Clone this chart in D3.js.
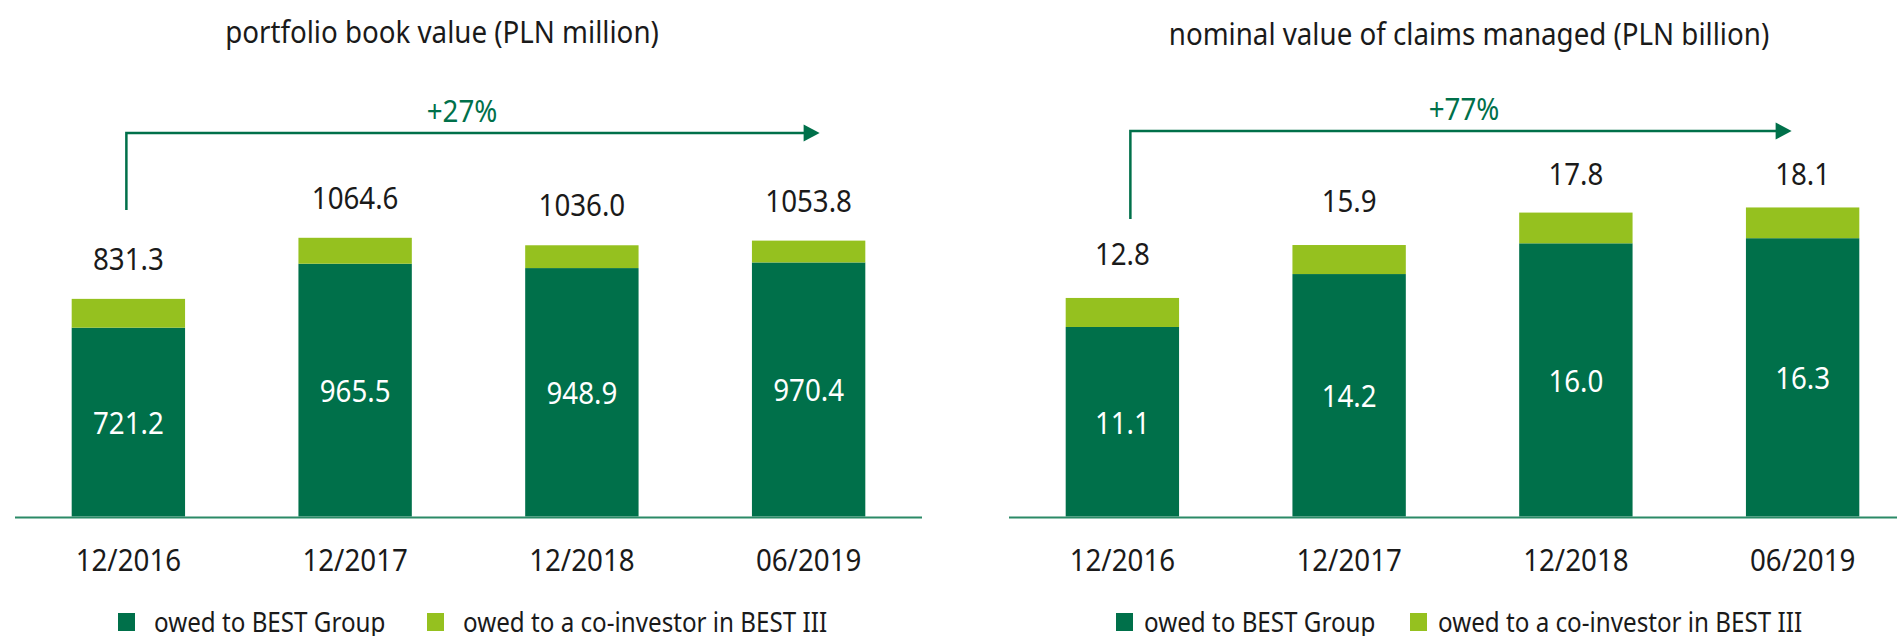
<!DOCTYPE html>
<html>
<head>
<meta charset="utf-8">
<script src="https://cdn.jsdelivr.net/npm/d3@7/dist/d3.min.js"></script>
<style>
    html, body {
        margin: 0;
        padding: 0;
        background: #ffffff;
    }
    svg {
        display: block;
        font-family: "Noto Sans", "Open Sans", "DejaVu Sans", sans-serif;
    }
</style>
</head>
<body>
<svg width="1897" height="636"></svg>
<script>
/*global d3 */

var categories = ["12/2016", "12/2017", "12/2018", "06/2019"];
var seriesNames = ["owed to BEST Group", "owed to a co-investor in BEST III"];

// portfolio book value (PLN million)
var bookGroup = [721.2, 965.5, 948.9, 970.4];
var bookCoInvestor = [110.1, 99.1, 87.1, 83.4];
var bookTotal = [831.3, 1064.6, 1036.0, 1053.8];

// nominal value of claims managed (PLN billion)
var claimsGroup = [11.1, 14.2, 16.0, 16.3];
var claimsCoInvestor = [1.7, 1.7, 1.8, 1.8];
var claimsTotal = [12.8, 15.9, 17.8, 18.1];

var growthLabels = ["+27%", "+77%"];

var colors = ["#00704a", "#95c11f"];
var axisColor = "#2b8a67";
var textColor = "#1a1a1a";

var svg = d3.select("svg");
var baseline = 516.5; // px
var plotTop = 123.8; // px
var squeeze = 0.88; // the original face is a condensed one
var labelSize = 31.5; // px

// put a text at x, y and narrow it
var place = function (sel, xFn, yFn) {
    sel.attr("x", 0)
        .attr("y", 0)
        .attr("transform", function (d, i) {
            return "translate(" + xFn(d, i) + "," + yFn(d, i) + ") scale(" +
                    squeeze + ",1)";
        });
    return sel;
};
var constant = function (v) {
    return function () {
        return v;
    };
};

var drawPanel = function (spec) {
    var g = svg.append("g").attr("class", spec.name);

    var rows = categories.map(function (c, i) {
        return {
            category: c,
            group: spec.group[i],
            coInvestor: spec.coInvestor[i],
            total: spec.total[i]
        };
    });

    var x = d3.scaleBand()
        .domain(categories)
        .range(spec.xRange)
        .paddingInner(0.5)
        .paddingOuter(0.25);
    var xMid = function (d) {
        return x(d.category) + x.bandwidth() / 2;
    };

    var y = d3.scaleLinear()
        .domain([0, spec.yMax])
        .range([baseline, plotTop]);

    var stacked = d3.stack().keys(["group", "coInvestor"])(rows);

    place(g.append("text"), constant(spec.titleX), constant(spec.titleY))
        .attr("text-anchor", "middle")
        .attr("font-size", 31.5)
        .attr("fill", textColor)
        .text(spec.title);

    g.selectAll("g.layer")
        .data(stacked)
        .join("g")
        .attr("class", "layer")
        .attr("fill", function (d, i) {
            return colors[i];
        })
        .selectAll("rect")
        .data(function (d) {
            return d;
        })
        .join("rect")
        .attr("x", function (d) {
            return x(d.data.category);
        })
        .attr("width", x.bandwidth())
        .attr("y", function (d) {
            return y(d[1]);
        })
        .attr("height", function (d) {
            return y(d[0]) - y(d[1]);
        });

    // axis line and category labels
    var axis = d3.axisBottom(x).tickSize(0).tickPadding(0);
    var axisGroup = g.append("g")
        .attr("transform", "translate(0," + baseline + ")")
        .call(axis);
    axisGroup.attr("font-family", null).attr("font-size", null);
    axisGroup.select(".domain")
        .attr("stroke", axisColor)
        .attr("stroke-width", 2)
        .attr("d", "M" + spec.axisX[0] + ",1H" + spec.axisX[1]);
    place(axisGroup.selectAll(".tick text"), constant(0), constant(54))
        .attr("dy", 0)
        .attr("font-size", labelSize)
        .attr("fill", textColor);

    // values inside the dark segment
    place(g.selectAll("text.inner")
        .data(rows)
        .join("text")
        .attr("class", "inner"), xMid, function (d) {
        return (y(0) + y(d.group)) / 2 + 12;
    })
        .attr("text-anchor", "middle")
        .attr("font-size", labelSize)
        .attr("fill", "#ffffff")
        .text(function (d) {
            return d.group.toFixed(1);
        });

    // totals above the bars
    place(g.selectAll("text.total")
        .data(rows)
        .join("text")
        .attr("class", "total"), xMid, function (d) {
        return Math.max(y(d.total) - spec.labelGap, spec.labelMinY);
    })
        .attr("text-anchor", "middle")
        .attr("font-size", labelSize)
        .attr("fill", textColor)
        .text(function (d) {
            return d.total.toFixed(1);
        });

    // growth arrow
    var first = xMid(rows[0]) + spec.arrowStart;
    var last = xMid(rows[rows.length - 1]) + spec.arrowEnd;
    g.append("path")
        .attr("fill", "none")
        .attr("stroke", colors[0])
        .attr("stroke-width", 2.5)
        .attr("d", "M" + first + "," + spec.arrowBottom + "V" + spec.arrowY +
                "H" + (last - 14));
    g.append("path")
        .attr("fill", colors[0])
        .attr("d", "M" + (last - 16) + "," + (spec.arrowY - 8.5) + "L" + last +
                "," + spec.arrowY + "L" + (last - 16) + "," +
                (spec.arrowY + 8.5) + "Z");
    place(g.append("text"), constant(spec.growthX),
            constant(spec.arrowY - 11))
        .attr("text-anchor", "middle")
        .attr("font-size", labelSize)
        .attr("fill", colors[0])
        .text(spec.growth);

    // legend
    var legend = g.selectAll("g.legend")
        .data(seriesNames)
        .join("g")
        .attr("class", "legend")
        .attr("transform", function (d, i) {
            return "translate(" + spec.legendX[i] + ",613)";
        });
    legend.append("rect")
        .attr("width", 17)
        .attr("height", 18)
        .attr("fill", function (d, i) {
            return colors[i];
        });
    place(legend.append("text"), constant(spec.legendGap), constant(19))
        .attr("font-size", 27.5)
        .attr("fill", textColor)
        .text(function (d) {
            return d;
        });
};

drawPanel({
    name: "book",
    title: "portfolio book value (PLN million)",
    titleX: 442,
    titleY: 43,
    group: bookGroup,
    coInvestor: bookCoInvestor,
    total: bookTotal,
    yMax: 1500,
    xRange: [15, 922],
    axisX: [15, 922],
    labelGap: 29,
    labelMinY: 0,
    growth: growthLabels[0],
    growthX: 462,
    arrowY: 133,
    arrowBottom: 210,
    arrowStart: -2,
    arrowEnd: 11,
    legendX: [118, 427],
    legendGap: 36
});

drawPanel({
    name: "claims",
    title: "nominal value of claims managed (PLN billion)",
    titleX: 1469,
    titleY: 45,
    group: claimsGroup,
    coInvestor: claimsCoInvestor,
    total: claimsTotal,
    yMax: 23,
    xRange: [1009, 1916],
    axisX: [1009, 1897],
    labelGap: 33,
    labelMinY: 185,
    growth: growthLabels[1],
    growthX: 1464,
    arrowY: 131,
    arrowBottom: 219,
    arrowStart: 8,
    arrowEnd: -11,
    legendX: [1116, 1410],
    legendGap: 28
});
</script>
</body>
</html>
